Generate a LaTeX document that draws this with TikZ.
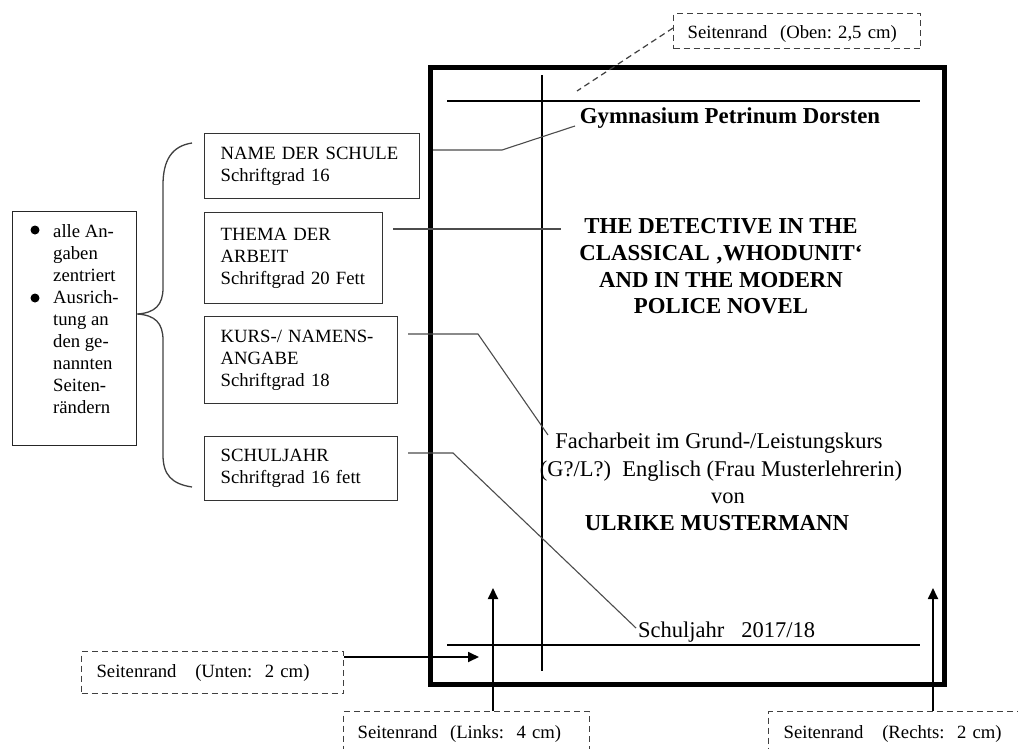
\documentclass[tikz,border=0pt]{standalone}
\usepackage{fontspec}
\setmainfont{Liberation Serif}
\usetikzlibrary{arrows.meta}
\frenchspacing
\begin{document}
\begin{tikzpicture}[x=1pt,y=-1pt,
  small/.style={font=\fontsize{18.7}{22}\selectfont},
  big/.style={font=\fontsize{22.5}{27}\selectfont},
  bigb/.style={font=\fontsize{22.8}{27}\selectfont\bfseries},
  infobox/.style={draw=black!80, line width=1.4pt, small, align=left, inner xsep=16pt, inner ysep=0pt, anchor=north west},
  dbox/.style={draw=black!75, line width=1.2pt, dash pattern=on 6pt off 4pt, small, inner ysep=0pt, anchor=north west, align=left},
  conn/.style={draw=black!70, line width=1.1pt},
  guide/.style={line width=2.2pt},
  arr/.style={line width=1.8pt, -{Triangle[length=11pt,width=10pt]}},
  txt/.style={inner sep=0pt, anchor=base},
]
\useasboundingbox (0,0) rectangle (1018,748);
\clip (0,0) rectangle (1018,748);

% page frame and guide lines
\draw[line width=5pt] (430.5,67.5) rectangle (944.5,684.5);
\draw[guide] (447,101) -- (920,101);
\draw[guide] (447,645) -- (920,645);
\draw[guide] (542,75) -- (542,671);

% page texts
\node[txt, bigb] (gym) at (730,123) {Gymnasium Petrinum Dorsten};
\node[txt, bigb] (t1) at (721,233) {THE DETECTIVE IN THE};
\node[txt, bigb] (t2) at (721,260) {CLASSICAL ‚WHODUNIT‘};
\node[txt, bigb] (t3) at (721,287) {AND IN THE MODERN};
\node[txt, bigb] (t4) at (721,313) {POLICE NOVEL};
\node[txt, big] (f1) at (719,448) {Facharbeit im Grund-/Leistungskurs};
\node[txt, big] (f2) at (721,476) {(G?/L?)\ \ Englisch (Frau Musterlehrerin)};
\node[txt, big] (f3) at (728,503) {von};
\node[txt, bigb] (f4) at (717,530) {ULRIKE MUSTERMANN};
\node[txt, big, anchor=base west] (sj) at (638,637) {Schuljahr\ \ \ 2017/18};

% info boxes
\node[infobox, text width=183pt, minimum height=65pt] (name) at (204,133) {NAME DER SCHULE\\Schriftgrad 16};
\node[infobox, text width=146pt, minimum height=91pt] (thema) at (204,212) {THEMA DER\\ARBEIT\\Schriftgrad 20 Fett};
\node[infobox, text width=161pt, minimum height=87pt] (kurs) at (204,316) {KURS-/ NAMENS-\\ANGABE\\Schriftgrad 18};
\node[infobox, text width=161pt, minimum height=64pt] (schul) at (204,436) {SCHULJAHR\\Schriftgrad 16 fett};

% connectors
\coordinate (c1a) at (433,150); \coordinate (c1b) at (502,150); \coordinate (c1c) at (575,126);
\draw[conn] (c1a) -- (c1b) -- (c1c);
\coordinate (c2a) at (393,229); \coordinate (c2b) at (561,229);
\draw[conn] (c2a) -- (c2b);
\coordinate (c3a) at (408,334); \coordinate (c3b) at (478,334); \coordinate (c3c) at (548,435);
\draw[conn] (c3a) -- (c3b) -- (c3c);
\coordinate (c4a) at (408,453); \coordinate (c4b) at (453,453); \coordinate (c4c) at (636,628);
\draw[conn] (c4a) -- (c4b) -- (c4c);

% notes box with brace
\node[draw=black!85, line width=1.4pt, anchor=north west, minimum width=124pt, minimum height=234pt, inner sep=0pt] (notes) at (12,211) {};
\node[small, anchor=base west, align=left, inner sep=0pt] (notetext) at (53,413) {alle An-\\gaben\\zentriert\\Ausrich-\\tung an\\den ge-\\nannten\\Seiten-\\rändern};
\fill (35,230) circle (4.5pt);
\fill (35,298) circle (4.5pt);
\draw[draw=black!75, line width=1.3pt] (192,143) .. controls (172,146) and (163,160) .. (163,185) -- (163,288)
  .. controls (163,305) and (155,313) .. (137,314) .. controls (155,315) and (163,323) .. (163,340)
  -- (163,455) .. controls (163,475) and (172,484) .. (192,487);

% margin labels
\node[dbox, text width=219pt, inner xsep=14pt, minimum height=35pt, text height=16pt, text depth=2pt] (oben) at (673,13) {Seitenrand\ \ (Oben: 2,5 cm)};
\node[dbox, text width=232pt, inner xsep=15pt, minimum height=42pt] (unten) at (81,651) {Seitenrand\ \ \ (Unten:\ \ 2 cm)};
\node[dbox, text width=218pt, inner xsep=14pt, minimum height=44pt] (links) at (343,711) {Seitenrand\ \ (Links:\ \ 4 cm)};
\node[dbox, text width=270pt, inner xsep=15pt, minimum height=44pt] (rechts) at (768,711) {Seitenrand\ \ \ (Rechts:\ \ 2 cm)};

\coordinate (obenend) at (577,91);
\draw[draw=black!75, line width=1.2pt, dash pattern=on 6pt off 4pt] (oben.west |- 0,28) -- (obenend);
\coordinate (ut) at (479,657);
\draw[arr] (unten.east |- ut) -- (ut);
\coordinate (lt) at (493,588);
\draw[arr] (links.north west -| lt) -- (lt);
\coordinate (rt) at (933,588);
\draw[arr] (rechts.north west -| rt) -- (rt);
\end{tikzpicture}
\end{document}
